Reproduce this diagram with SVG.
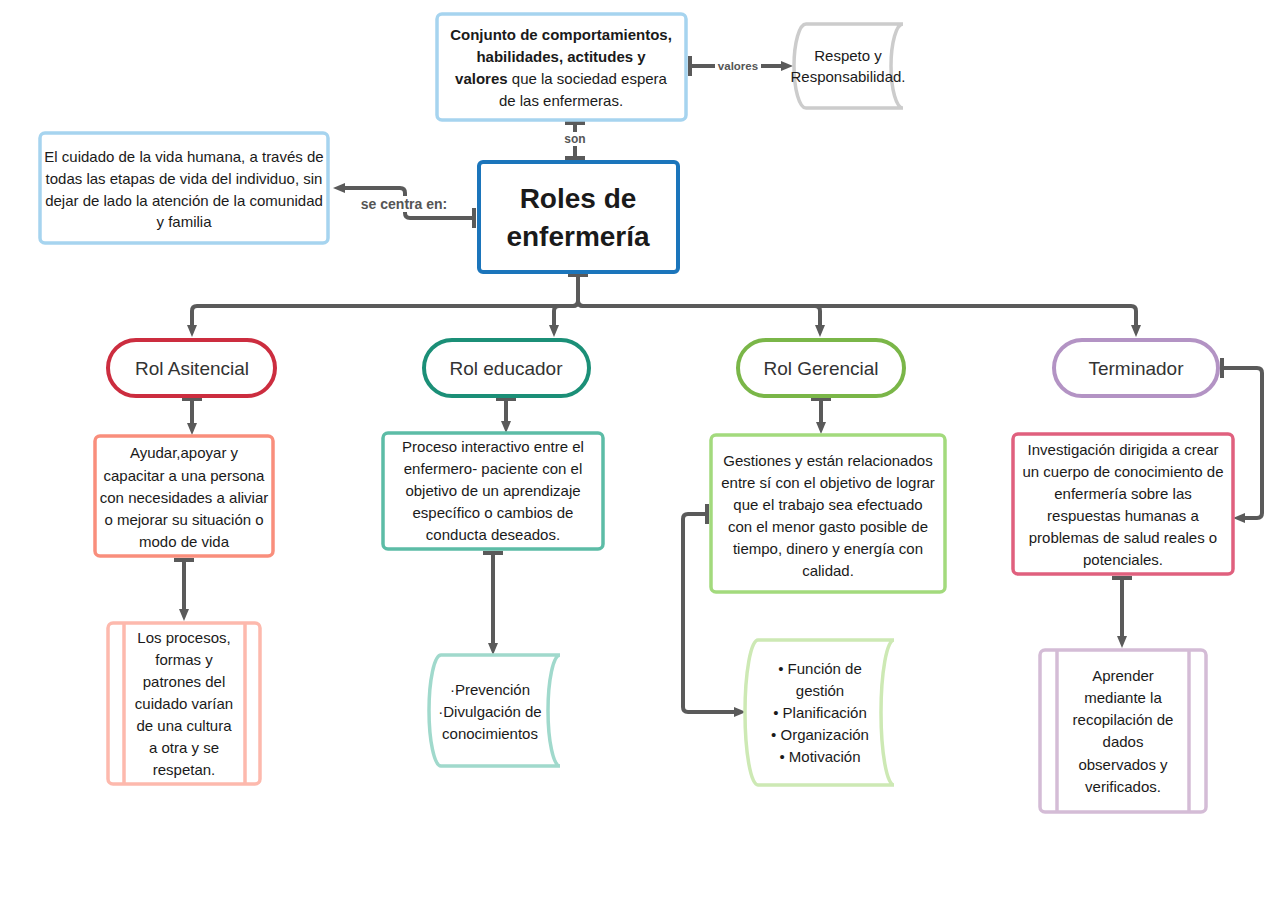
<svg xmlns="http://www.w3.org/2000/svg" width="1280" height="905" viewBox="0 0 1280 905">
<style>
text{font-family:"Liberation Sans",Arial,sans-serif;fill:#1a1a1a;font-size:15px;text-anchor:middle}
.box{fill:#fff;stroke-width:3.5}
.pill{fill:#fff;stroke-width:4}
.pl{font-size:19px;fill:#333}
.b{font-weight:bold}
.conn{fill:none;stroke:#5a5a5a;stroke-width:4;stroke-linejoin:round}
.lbl{font-weight:bold;fill:#555}
</style>
<defs>
<marker id="arr" viewBox="0 0 12 10" refX="4" refY="5" markerWidth="12" markerHeight="10" markerUnits="userSpaceOnUse" orient="auto"><path d="M0,0 L12,5 L0,10 z" fill="#5a5a5a"/></marker>
<marker id="tee" viewBox="0 0 4 20" refX="0" refY="10" markerWidth="4" markerHeight="20" markerUnits="userSpaceOnUse" orient="auto"><rect x="0" y="0" width="4" height="20" fill="#5a5a5a"/></marker>
<marker id="teeEnd" viewBox="0 0 4 20" refX="4" refY="10" markerWidth="4" markerHeight="20" markerUnits="userSpaceOnUse" orient="auto"><rect x="0" y="0" width="4" height="20" fill="#5a5a5a"/></marker>
</defs>
<rect width="1280" height="905" fill="#fff"/>

<g id="connectors">
<path class="conn" d="M688 66 H785" marker-start="url(#tee)" marker-end="url(#arr)"/>
<path class="conn" d="M575 121 V160" marker-start="url(#tee)" marker-end="url(#teeEnd)"/>
<path class="conn" d="M476 218 H410 Q405 218 405 213 V193 Q405 188 400 188 H341" marker-start="url(#tee)" marker-end="url(#arr)"/>
<path class="conn" d="M578 273 V301 Q578 306 573 306 H197 Q192 306 192 311 V329" marker-start="url(#tee)" marker-end="url(#arr)"/>
<path class="conn" d="M578 273 V301 Q578 306 573 306 H559 Q554 306 554 311 V329" marker-end="url(#arr)"/>
<path class="conn" d="M578 273 V301 Q578 306 583 306 H815 Q820 306 820 311 V329" marker-end="url(#arr)"/>
<path class="conn" d="M578 273 V301 Q578 306 583 306 H1131 Q1136 306 1136 311 V329" marker-end="url(#arr)"/>
<path class="conn" d="M192 397 V427" marker-start="url(#tee)" marker-end="url(#arr)"/>
<path class="conn" d="M184 558 V613" marker-start="url(#tee)" marker-end="url(#arr)"/>
<path class="conn" d="M506 397 V425" marker-start="url(#tee)" marker-end="url(#arr)"/>
<path class="conn" d="M493 551 V647" marker-start="url(#tee)" marker-end="url(#arr)"/>
<path class="conn" d="M821 397 V426" marker-start="url(#tee)" marker-end="url(#arr)"/>
<path class="conn" d="M709 514 H688 Q683 514 683 519 V707 Q683 712 688 712 H738" marker-start="url(#tee)" marker-end="url(#arr)"/>
<path class="conn" d="M1220 368 H1257 Q1262 368 1262 373 V513 Q1262 518 1257 518 H1241" marker-start="url(#tee)" marker-end="url(#arr)"/>
<path class="conn" d="M1122 576 V640" marker-start="url(#tee)" marker-end="url(#arr)"/>
<rect x="715" y="59" width="46" height="14" fill="#fff"/>
<text class="lbl" x="738" y="70" style="font-size:11.5px">valores</text>
<rect x="563" y="132" width="24" height="14" fill="#fff"/>
<text class="lbl" x="575" y="143" style="font-size:12px">son</text>
<rect x="352" y="196" width="104" height="16" fill="#fff"/>
<text class="lbl" x="404" y="209" style="font-size:14px">se centra en:</text>
</g>

<g id="conjunto">
<rect class="box" x="437" y="14" width="249" height="106" rx="5" stroke="#a6d4ef"/>
<text x="561" y="40" class="b">Conjunto de comportamientos,</text>
<text x="561" y="62" class="b">habilidades, actitudes y</text>
<text x="561" y="84"><tspan class="b">valores</tspan> que la sociedad espera</text>
<text x="561" y="106">de las enfermeras.</text>
</g>

<g id="respeto">
<path d="M806 24 H903 A12 42 0 0 0 903 108 H806 A12 42 0 0 1 806 24 z" fill="#fff" stroke="#cccccc" stroke-width="3.5"/>
<text x="848" y="61">Respeto y</text>
<text x="848" y="82">Responsabilidad.</text>
</g>

<g id="cuidado">
<rect class="box" x="40" y="133" width="288" height="110" rx="5" stroke="#a6d4ef"/>
<text x="184" y="162">El cuidado de la vida humana, a través de</text>
<text x="184" y="184">todas las etapas de vida del individuo, sin</text>
<text x="184" y="206">dejar de lado la atención de la comunidad</text>
<text x="184" y="227">y familia</text>
</g>

<g id="roles">
<rect x="479" y="162" width="199" height="110" rx="4" fill="#fff" stroke="#1b75bb" stroke-width="4"/>
<text x="578" y="208" class="b" style="font-size:28px">Roles de</text>
<text x="578" y="246" class="b" style="font-size:28px">enfermería</text>
</g>

<g id="rol-asistencial">
<rect class="pill" x="108" y="340" width="167" height="56" rx="28" stroke="#cc2d3f"/>
<text class="pl" x="192" y="375">Rol Asitencial</text>
</g>
<g id="rol-educador">
<rect class="pill" x="424" y="340" width="165" height="56" rx="28" stroke="#1b8f77"/>
<text class="pl" x="506" y="375">Rol educador</text>
</g>
<g id="rol-gerencial">
<rect class="pill" x="738" y="340" width="166" height="56" rx="28" stroke="#7ab648"/>
<text class="pl" x="821" y="375">Rol Gerencial</text>
</g>
<g id="terminador">
<rect class="pill" x="1054" y="340" width="164" height="56" rx="28" stroke="#b393c4"/>
<text class="pl" x="1136" y="375">Terminador</text>
</g>

<g id="ayudar">
<rect class="box" x="95" y="436" width="178" height="120" rx="5" stroke="#f98e7c"/>
<text x="184" y="458">Ayudar,apoyar y</text>
<text x="184" y="481">capacitar a una persona</text>
<text x="184" y="503">con necesidades a aliviar</text>
<text x="184" y="525">o mejorar su situación o</text>
<text x="184" y="547">modo de vida</text>
</g>

<g id="procesos">
<rect class="box" x="108" y="623" width="152" height="161" rx="5" stroke="#fdb9ad"/>
<line x1="124" y1="623" x2="124" y2="784" stroke="#fdb9ad" stroke-width="3.5"/>
<line x1="245" y1="623" x2="245" y2="784" stroke="#fdb9ad" stroke-width="3.5"/>
<text x="184" y="643">Los procesos,</text>
<text x="184" y="665">formas y</text>
<text x="184" y="687">patrones del</text>
<text x="184" y="709">cuidado varían</text>
<text x="184" y="731">de una cultura</text>
<text x="184" y="753">a otra y se</text>
<text x="184" y="775">respetan.</text>
</g>

<g id="proceso-interactivo">
<rect class="box" x="383" y="433" width="220" height="116" rx="5" stroke="#5cbca6"/>
<text x="493" y="452">Proceso interactivo entre el</text>
<text x="493" y="474">enfermero- paciente con el</text>
<text x="493" y="496">objetivo de un aprendizaje</text>
<text x="493" y="518">específico o cambios de</text>
<text x="493" y="540">conducta deseados.</text>
</g>

<g id="prevencion">
<path d="M441 655 H560 A12 55.5 0 0 0 560 766 H441 A12 55.5 0 0 1 441 655 z" fill="#fff" stroke="#a0d9cc" stroke-width="3.5"/>
<text x="490" y="695">·Prevención</text>
<text x="490" y="717">·Divulgación de</text>
<text x="490" y="739">conocimientos</text>
</g>

<g id="gestiones">
<rect class="box" x="711" y="435" width="234" height="157" rx="5" stroke="#a3da7d"/>
<text x="828" y="466">Gestiones y están relacionados</text>
<text x="828" y="488">entre sí con el objetivo de lograr</text>
<text x="828" y="510">que el trabajo sea efectuado</text>
<text x="828" y="532">con el menor gasto posible de</text>
<text x="828" y="554">tiempo, dinero y energía con</text>
<text x="828" y="576">calidad.</text>
</g>

<g id="funciones">
<path d="M758 640 H894 A13 72.5 0 0 0 894 785 H758 A13 72.5 0 0 1 758 640 z" fill="#fff" stroke="#cde9b4" stroke-width="3.5"/>
<text x="820" y="674">• Función de</text>
<text x="820" y="696">gestión</text>
<text x="820" y="718">• Planificación</text>
<text x="820" y="740">• Organización</text>
<text x="820" y="762">• Motivación</text>
</g>

<g id="investigacion">
<rect class="box" x="1013" y="434" width="220" height="140" rx="5" stroke="#e0607e"/>
<text x="1123" y="455">Investigación dirigida a crear</text>
<text x="1123" y="477">un cuerpo de conocimiento de</text>
<text x="1123" y="499">enfermería sobre las</text>
<text x="1123" y="521">respuestas humanas a</text>
<text x="1123" y="543">problemas de salud reales o</text>
<text x="1123" y="565">potenciales.</text>
</g>

<g id="aprender">
<rect class="box" x="1040" y="650" width="166" height="162" rx="5" stroke="#d4bcd6"/>
<line x1="1057" y1="650" x2="1057" y2="812" stroke="#d4bcd6" stroke-width="3.5"/>
<line x1="1189" y1="650" x2="1189" y2="812" stroke="#d4bcd6" stroke-width="3.5"/>
<text x="1123" y="681">Aprender</text>
<text x="1123" y="703">mediante la</text>
<text x="1123" y="725">recopilación de</text>
<text x="1123" y="747">dados</text>
<text x="1123" y="770">observados y</text>
<text x="1123" y="792">verificados.</text>
</g>
</svg>
